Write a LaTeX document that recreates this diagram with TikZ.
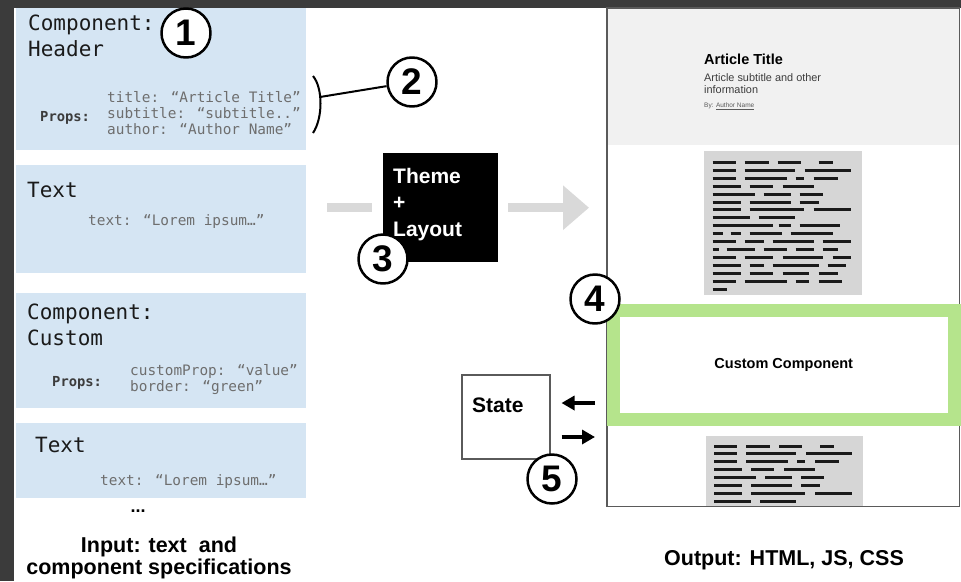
\documentclass[tikz,border=0pt]{standalone}
\usepackage{fontspec}
\setmainfont{Liberation Sans}
\newfontfamily\specfont{DejaVu Sans Mono}
\usetikzlibrary{arrows.meta,calc,positioning}
\definecolor{pipeFrame}{HTML}{3B3B3B}
\definecolor{pipeSpec}{HTML}{D5E5F3}
\definecolor{pipeInk}{HTML}{1A1A1A}
\definecolor{pipeProp}{HTML}{6E6E6E}
\definecolor{pipeEdge}{HTML}{5A5A5A}
\definecolor{pipeHead}{HTML}{F1F1F1}
\definecolor{pipeBody}{HTML}{D6D6D6}
\definecolor{pipeGreen}{HTML}{B5E48C}
\definecolor{pipeFlow}{HTML}{D9D9D9}
\newcommand{\pxsize}[2]{\fontsize{#1}{#2}\selectfont}
% dash rows of the placeholder text blocks (x from / to, one row per group)
\newcommand{\loremrows}{%
  {0/23,32/56,65/88,106/120},{0/23,32/82,92/138},{0/23,32/74,83/91,101/125},
  {0/28,37/60,70/101},{0/42,51/78,87/110},{0/28,37/78,87/106},
  {0/28,37/91,101/138},{0/37,46/82},{0/60,66/78,87/127},
  {0/10,18/28,37/69,78/120},{0/23,32/51,60/101,110/138},
  {0/6,14/42,51/74,83/101,110/125},{0/23,32/60,70/110,120/138},
  {0/28,37/51,60/106,115/133},{0/28,37/60,70/96,106/125},
  {0/23,32/74,83/96,106/129},{0/14}}
\tikzset{
  specbox/.style={fill=pipeSpec, inner sep=0pt, anchor=north west},
  spectitle/.style={font=\specfont\pxsize{21}{26}, text=pipeInk, anchor=base west, inner sep=0pt},
  propkey/.style={font=\specfont\bfseries\pxsize{13.8}{16}, text=pipeInk!85, anchor=base west, inner sep=0pt},
  propval/.style={font=\specfont\pxsize{14.4}{16}, text=pipeProp, anchor=base west, inner sep=0pt},
  marker/.style={circle, draw=black, line width=2.5pt, fill=white, minimum size=49pt,
    inner sep=0pt, font=\bfseries\pxsize{37}{37}},
  caption/.style={font=\bfseries\pxsize{21.5}{22}, text=black, anchor=base, inner sep=0pt},
  bodybox/.style={fill=pipeBody, inner sep=0pt, anchor=north west},
  bodyline/.style={line width=3pt, pipeInk},
  flowbar/.style={pipeFlow, line width=9pt},
  statearrow/.style={black, line width=4.5pt, -{Triangle[length=13pt,width=14pt]}},
}

\begin{document}
\begin{tikzpicture}[x=1pt, y=-1pt, line join=round]
  \useasboundingbox (0,0) rectangle (961,581);
  % Frame
  \fill[pipeFrame] (0,0) rectangle (961,581);
  \fill[white] (14,8) rectangle (961,581);

  % ---- Input specifications ----
  \node[specbox, minimum width=290, minimum height=142] (spec header) at (16,8) {};
  \node[spectitle] (header kind) at (28,30) {Component:};
  \node[spectitle] (header name) at (28,56) {Header};
  \node[propkey] (header props) at (40,121) {Props:};
  \node[propval] (header p1) at (107,102) {title: “Article Title”};
  \node[propval] (header p2) at (107,118) {subtitle: “subtitle..”};
  \node[propval] (header p3) at (107,134) {author: “Author Name”};

  \node[specbox, minimum width=290, minimum height=108] (spec text a) at (16,165) {};
  \node[spectitle] (text a name) at (27,197) {Text};
  \node[propval] (text a p1) at (88,225) {text: “Lorem ipsum…”};

  \node[specbox, minimum width=290, minimum height=115] (spec custom) at (16,293) {};
  \node[spectitle] (custom kind) at (27,319) {Component:};
  \node[spectitle] (custom name) at (27,345) {Custom};
  \node[propkey] (custom props) at (52,386) {Props:};
  \node[propval] (custom p1) at (130,375) {customProp: “value”};
  \node[propval] (custom p2) at (130,391) {border: “green”};

  \node[specbox, minimum width=290, minimum height=75] (spec text b) at (16,423) {};
  \node[spectitle] (text b name) at (35,452) {Text};
  \node[propval] (text b p1) at (100,485) {text: “Lorem ipsum…”};

  \node[font=\bfseries\pxsize{18}{20}, anchor=base, inner sep=0pt] (more) at (138,512) {...};
  \node[caption] (input a) at (159,552) {Input: text\ \ and};
  \node[caption] (input b) at (159,574) {component specifications};

  \node[marker] (one) at (186,33) {1};

  % Props bracket
  \draw[black, line width=2pt] (313,76) .. controls (323,88) and (323,118) .. (313,133);
  \coordinate (bracket tip) at (320,97);
  \node[marker] (two) at (412,82) {2};
  \draw[black, line width=2pt] (bracket tip) -- (two);

  % ---- Theme + layout ----
  \node[fill=black, anchor=north west, minimum width=115, minimum height=109, inner sep=0pt]
    (theme) at (383,153) {};
  \node[text=white, anchor=north west, inner sep=0pt, align=left,
        font=\bfseries\pxsize{21}{26.5}]
    (theme text) at (393,167.7) {Theme\\+\\Layout};
  \draw[flowbar, shorten <=21pt, shorten >=11pt] (spec text a.east |- theme.west) -- (theme.west);
  \draw[flowbar, shorten <=10pt, shorten >=18pt, -{Triangle[length=26pt,width=43pt]}]
    (theme.east) -- (theme.east -| 607,0);
  \node[marker] (three) at (383,259) {3};

  % ---- Output page ----
  \node[fill=white, inner sep=0pt, anchor=north west, minimum width=352, minimum height=498]
    (page) at (607,8) {};
  \node[fill=pipeHead, inner sep=0pt, anchor=north west, minimum width=352, minimum height=137]
    (page head) at (607,8) {};
  \node[anchor=base west, inner sep=0pt, font=\bfseries\pxsize{14.5}{17}] (article title)
    at (704,64) {Article Title};
  \node[anchor=base west, inner sep=0pt, text=pipeInk!85, font=\pxsize{10.9}{12}] (article sub)
    at (704,81.7) {Article subtitle and other};
  \node[anchor=base west, inner sep=0pt, text=pipeInk!85, font=\pxsize{10.9}{12}] (article info)
    at (704,93.3) {information};
  \node[anchor=base west, inner sep=0pt, text=pipeEdge, font=\pxsize{6.5}{7}] (article by)
    at (704,107.3) {By: \underline{Author Name}};

  \node[bodybox, minimum width=158, minimum height=144] (body top) at (704,151) {};
  \begin{scope}[shift={(712.7,162.3)}]
    \foreach \row [count=\i from 0] in \loremrows {
      \foreach \a/\b in \row { \draw[bodyline] (\a,7.94*\i) -- (\b,7.94*\i); }
    }
  \end{scope}

  \node[bodybox, minimum width=157, minimum height=70] (body bottom) at (706,436) {};
  \begin{scope}
    \clip (body bottom.north west) rectangle (body bottom.south east);
    \begin{scope}[shift={(714,446)}]
      \foreach \row [count=\i from 0] in \loremrows {
        \foreach \a/\b in \row { \draw[bodyline] (\a,7.94*\i) -- (\b,7.94*\i); }
      }
    \end{scope}
  \end{scope}

  \draw[pipeEdge, line width=1.5pt, line join=miter] (page.north west) rectangle (page.south east);

  \node[draw=pipeGreen, line width=13pt, line join=miter, minimum width=341.5, minimum height=109.5,
        inner sep=0pt, font=\bfseries\pxsize{14.5}{17}]
    (custom) at (783.75,364.75) {Custom Component};
  \node[marker] (four) at (595,299) {4};

  % ---- State ----
  \node[draw=pipeEdge, line width=1.5pt, line join=miter, anchor=north west, minimum width=88,
        minimum height=84, inner sep=0pt] (state) at (461,374) {};
  \node[anchor=base west, inner sep=0pt, font=\bfseries\pxsize{21}{22}] (state label)
    at (472,412) {State};
  \coordinate (state in) at (595,403);
  \coordinate (state out) at (595,437);
  \draw[statearrow, shorten >=11pt] (state in) -- (state.east |- state in);
  \draw[statearrow, shorten <=11pt] (state.east |- state out) -- (state out);
  \node[marker] (five) at (552,479) {5};

  \node[caption] (output) at (784,565) {Output: HTML, JS, CSS};
\end{tikzpicture}
\end{document}
